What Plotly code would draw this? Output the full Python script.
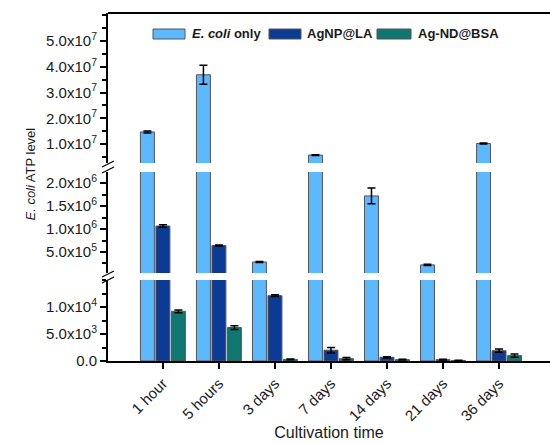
import plotly.graph_objects as go

categories = ["1 hour", "5 hours", "3 days", "7 days", "14 days", "21 days", "36 days"]
series_names = ["<i>E. coli</i> only", "AgNP@LA", "Ag-ND@BSA"]
ecoli_only = [1.47e7, 3.69e7, 2.83e5, 5.7e6, 1.72e6, 2.2e5, 1.02e7]
ecoli_only_err = [4.0e5, 3.7e6, 1.2e4, 1.5e5, 1.7e5, 1.2e4, 1.5e5]
agnp_la = [1.065e6, 6.4e5, 1.21e4, 2.0e3, 690, 250, 1.9e3]
agnp_la_err = [2.5e4, 1.2e4, 150, 500, 120, 60, 300]
agnd_bsa = [9.2e3, 6.2e3, 300, 430, 250, 100, 1.0e3]
agnd_bsa_err = [250, 350, 60, 200, 60, 40, 300]
colors = ["#5CB9FF", "#0B3B94", "#0F7670"]

top_ticks = [1e7, 2e7, 3e7, 4e7, 5e7]
top_ticktext = ["1.0x10<sup>7</sup>", "2.0x10<sup>7</sup>", "3.0x10<sup>7</sup>", "4.0x10<sup>7</sup>", "5.0x10<sup>7</sup>"]
mid_ticks = [5e5, 1e6, 1.5e6, 2e6]
mid_ticktext = ["5.0x10<sup>5</sup>", "1.0x10<sup>6</sup>", "1.5x10<sup>6</sup>", "2.0x10<sup>6</sup>"]
bot_ticks = [0, 5e3, 1e4]
bot_ticktext = ["0.0", "5.0x10<sup>3</sup>", "1.0x10<sup>4</sup>"]

# plot area geometry (pixels)
L, R, T, B = 108, 550, 13, 361
W, H = R - L, B - T

def px(xp):
    return (xp - L) / W

def py(yp):
    return (B - yp) / H

fig = go.Figure()
values = [ecoli_only, agnp_la, agnd_bsa]
errs = [ecoli_only_err, agnp_la_err, agnd_bsa_err]
axes = [("x", "y"), ("x2", "y2"), ("x3", "y3")]
for i in range(3):
    for xa, ya in axes:
        fig.add_trace(go.Bar(
            x=categories, y=values[i], name=series_names[i], xaxis=xa, yaxis=ya,
            marker=dict(color=colors[i], line=dict(color="#555555", width=1)),
            error_y=dict(type="data", array=errs[i], color="black", thickness=1.5, width=4),
            showlegend=False, offsetgroup=str(i),
        ))

font = "Liberation Sans, Arial, sans-serif"
tickfont = dict(family=font, size=15, color="#1a1a1a")
common_y = dict(showline=True, linecolor="black", linewidth=2, ticks="outside", ticklen=6,
                tickwidth=1.5, tickcolor="black", showgrid=False, zeroline=False, tickfont=tickfont,
                tickmode="array", automargin=False)
fig.update_layout(
    template="none",
    width=550, height=443,
    margin=dict(l=L, r=550 - R, t=T, b=443 - B, autoexpand=False),
    paper_bgcolor="white", plot_bgcolor="white",
    barmode="group", bargap=0.17, bargroupgap=0.1, showlegend=False,
    font=dict(family=font, color="#1a1a1a"),
    xaxis=dict(domain=[0, 1], anchor="y", range=[-0.98, 6.91], showline=True, linecolor="black",
               linewidth=2, ticks="outside", ticklen=6, tickwidth=1.5, tickcolor="black",
               tickangle=-45, tickfont=tickfont, showgrid=False, automargin=False,
               title=dict(text="Cultivation time", font=dict(family=font, size=16, color="#1a1a1a"),
                          standoff=4)),
    xaxis2=dict(domain=[0, 1], anchor="y2", matches="x", visible=False, automargin=False),
    xaxis3=dict(domain=[0, 1], anchor="y3", matches="x", visible=False, automargin=False),
    yaxis=dict(domain=[0, py(280)], range=[0, 15000], tickvals=bot_ticks, ticktext=bot_ticktext,
               minor=dict(dtick=2500, tick0=0, ticks="outside", ticklen=4, tickcolor="black"),
               anchor="x", **common_y),
    yaxis2=dict(domain=[py(273), py(172)], range=[4.3e4, 2.24e6], tickvals=mid_ticks,
                ticktext=mid_ticktext,
                minor=dict(dtick=2.5e5, tick0=0, ticks="outside", ticklen=4, tickcolor="black"),
                anchor="x2", **common_y),
    yaxis3=dict(domain=[py(163), 1], range=[2.62e6, 6.09e7], tickvals=top_ticks,
                ticktext=top_ticktext,
                minor=dict(dtick=5e6, tick0=0, ticks="outside", ticklen=4, tickcolor="black"),
                anchor="x3", **common_y),
)

# top frame line
fig.add_shape(type="line", xref="paper", yref="paper", x0=0, x1=1, y0=1, y1=1,
              line=dict(color="black", width=2))

# y-axis title
fig.add_annotation(text="<i>E. coli</i> ATP level", xref="paper", yref="paper",
                   x=px(20), y=py(174), textangle=-90, showarrow=False,
                   font=dict(family=font, size=13, color="#1a1a1a"))

# axis break marks
for yc in (164, 170, 274, 280):
    fig.add_shape(type="line", xref="paper", yref="paper",
                  x0=px(102), y0=py(yc + 3), x1=px(114), y1=py(yc - 3),
                  line=dict(color="black", width=1.2))

# legend (manual, wide swatches)
legend_items = [(153, 185, 190), (269, 301, 305), (377, 411, 416)]
for i, (s0, s1, tx) in enumerate(legend_items):
    fig.add_shape(type="rect", xref="paper", yref="paper",
                  x0=px(s0), x1=px(s1), y0=py(39), y1=py(29),
                  fillcolor=colors[i], line=dict(color="#555555", width=1))
    fig.add_annotation(text="<b>" + series_names[i] + "</b>", xref="paper", yref="paper",
                       x=px(tx), y=py(34), xanchor="left", yanchor="middle", showarrow=False,
                       font=dict(family=font, size=13, color="#1a1a1a"))

fig.write_html("out.html", config={"displayModeBar": False},
               post_script="document.body.style.margin='0px';")
